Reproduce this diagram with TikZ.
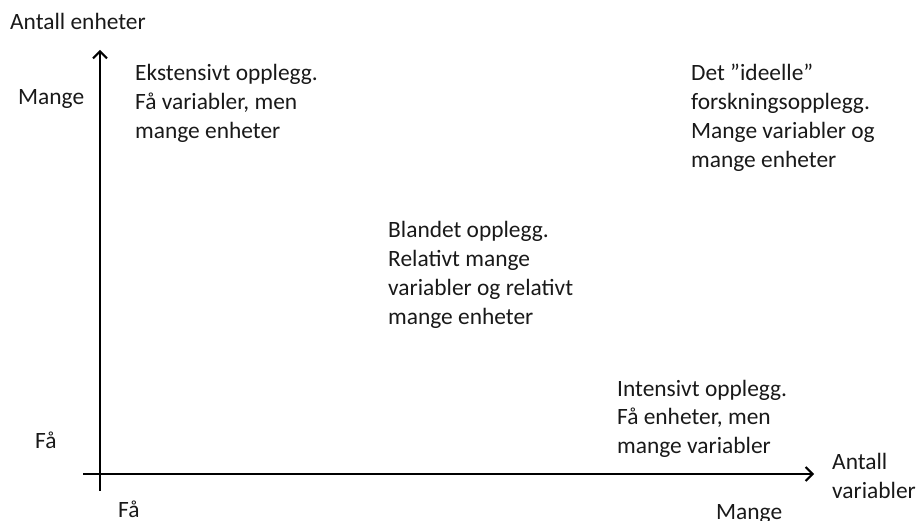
\documentclass[tikz,border=0pt]{standalone}
\usepackage{fontspec}
\setmainfont{Carlito}
\usetikzlibrary{arrows.meta}
\begin{document}
\begin{tikzpicture}[x=1pt,y=-1pt,
  lbl/.style={anchor=base west,inner sep=0pt,align=left,
    font=\fontsize{23.4}{29}\selectfont,text=black!90},
  axis/.style={line width=2.2pt,-{Straight Barb[length=7pt,width=14pt,line width=2pt]}}]
\useasboundingbox (0,0) rectangle (922,521);
% axes
\coordinate (ybot) at (100,491);
\coordinate (ytop) at (100,50);
\coordinate (xleft) at (83,474);
\coordinate (xright) at (814,474);
\draw[axis] (ybot) -- (ytop);
\draw[axis] (xleft) -- (xright);
% axis titles and ends (multi-line nodes are placed by their last baseline)
\node[lbl] (ytitle) at (10,30) {Antall enheter};
\node[lbl] (xtitle) at (832,499) {Antall\\variabler};
\node[lbl] (ymany) at (18,105) {Mange};
\node[lbl] (yfew) at (35,449) {Få};
\node[lbl] (xfew) at (118,518) {Få};
\node[lbl] (xmany) at (716,519) {Mange};
% designs
\node[lbl] (ext) at (135,139) {Ekstensivt opplegg.\\Få variabler, men\\mange enheter};
\node[lbl] (ideal) at (691,168) {Det ”ideelle”\\forskningsopplegg.\\Mange variabler og\\mange enheter};
\node[lbl] (mixed) at (388,325) {Blandet opplegg.\\Relativt mange\\variabler og relativt\\mange enheter};
\node[lbl] (int) at (617,454) {Intensivt opplegg.\\Få enheter, men\\mange variabler};
\end{tikzpicture}
\end{document}
